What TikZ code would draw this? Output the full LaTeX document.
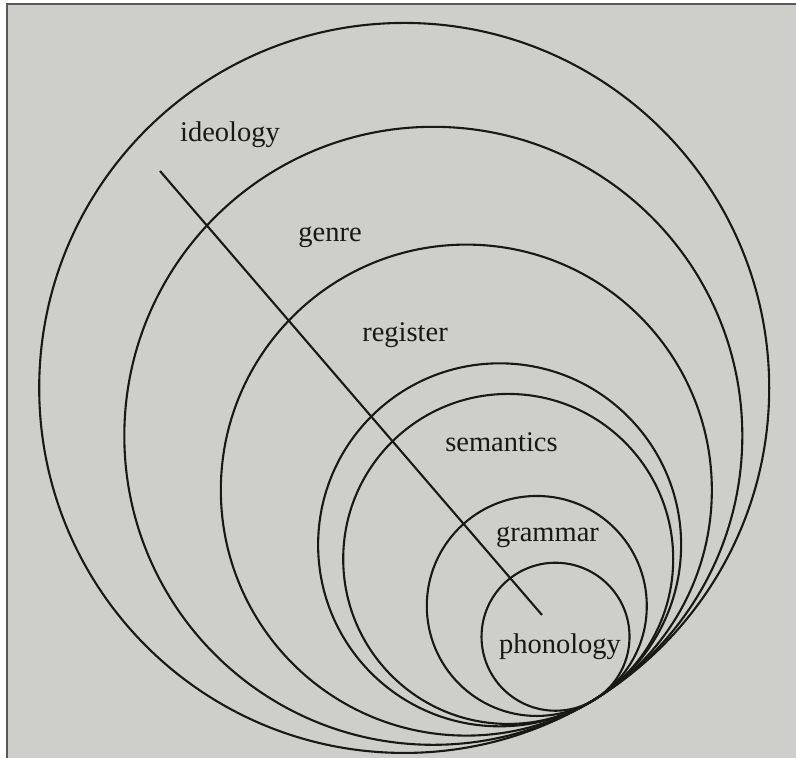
\documentclass[tikz,border=0pt]{standalone}
\usepackage{fontspec}
\setmainfont{Liberation Serif}
\usetikzlibrary{calc}
\definecolor{paper}{RGB}{206,206,203}
\definecolor{ink}{RGB}{24,24,20}
\definecolor{edge}{RGB}{90,90,90}
\begin{document}
\begin{tikzpicture}[x=1pt,y=-1pt,
  ring/.style={draw=ink,line width=2.1pt},
  axis/.style={draw=ink,line width=2.1pt},
  lab/.style={anchor=base,inner sep=0pt,text=ink,font=\fontsize{28.5}{34}\selectfont}]
\useasboundingbox (0,0) rectangle (796,758);
\fill[white] (0,0) rectangle (796,758);
\fill[paper] (7,4) rectangle (796,758);
\draw[edge,line width=1.5pt] (7,758) -- (7,4) -- (796,4);
\coordinate (T) at (594,700);
\coordinate (u) at (0.52,0.855);
\foreach \r/\n in {365/c1,309/c2,245.5/c3,181.5/c4,165/c5,110/c6,74/c7}{
  \coordinate (\n) at ($(T)-\r*(u)$);
  \draw[ring] (\n) circle [radius=\r];
}
\coordinate (lineA) at (160,171);
\coordinate (lineB) at (542,615);
\draw[axis] (lineA) -- (lineB);
\node[lab] (ideology) at (230,141) {ideology};
\node[lab] (genre) at (330,241) {genre};
\node[lab] (register) at (405,341) {register};
\node[lab] (semantics) at (501.5,451.5) {semantics};
\node[lab] (grammar) at (547.5,541.5) {grammar};
\node[lab] (phonology) at (560,653) {phonology};
\end{tikzpicture}
\end{document}
